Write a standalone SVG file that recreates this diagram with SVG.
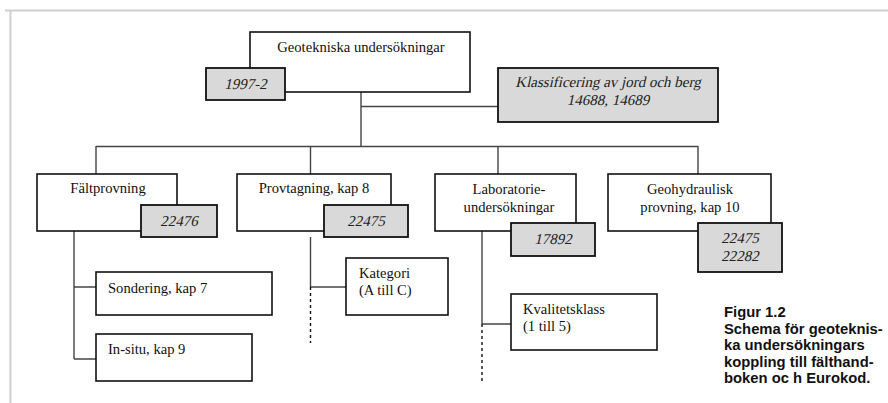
<svg xmlns="http://www.w3.org/2000/svg" width="888" height="403" viewBox="0 0 888 403">
<style>
.box{fill:#fff;stroke:#111;stroke-width:1.6}
.ref{fill:#d9d9d9;stroke:#111;stroke-width:1.8}
.t{font-family:"Liberation Serif","Times New Roman",serif;font-size:14.6px;fill:#111}
.i{font-family:"Liberation Serif","Times New Roman",serif;font-size:15px;fill:#222}
.c{text-anchor:middle}
.ln{stroke:#444;stroke-width:1.4;fill:none}
.dash{stroke:#111;stroke-width:1.4;stroke-dasharray:3 3;fill:none}
.cap{font-family:"Liberation Sans",Arial,sans-serif;font-size:14.8px;font-weight:bold;fill:#111}
</style>
<rect width="888" height="403" fill="#fff"/>
<path d="M5 10.5H888M10.5 10V403" stroke="#cfcfcf" stroke-width="2" fill="none"/>
<g id="connectors">
<path class="ln" d="M361 92V146M361 106.5H498M96 146.5H698M96 146V174M310.5 146V174M498 146V174M698 146V174"/>
<path class="ln" d="M74 231V359M74 287H96M74 359H96"/>
<path class="ln" d="M310.5 237V287M310.5 287H346"/>
<path class="dash" d="M310.5 287V343"/>
<path class="ln" d="M482 231V324M482 324H511"/>
<path class="dash" d="M482 324V382"/>
</g>
<g id="geotekniska">
<rect class="box" x="250" y="32" width="220" height="60"/>
<text class="t c" x="361" y="52">Geotekniska undersökningar</text>
</g>
<g id="ref-1997">
<rect class="ref" x="206" y="68" width="79" height="32"/>
<text class="i c" transform="translate(245.5 89) skewX(-13)">1997-2</text>
</g>
<g id="klassificering">
<rect class="ref" x="498" y="68" width="220" height="54"/>
<text class="i c" transform="translate(608 87) skewX(-13)">Klassificering av jord och berg</text>
<text class="i c" transform="translate(608 105) skewX(-13)">14688, 14689</text>
</g>
<g id="faltprovning">
<rect class="box" x="37" y="174" width="140" height="57"/>
<text class="t c" x="108" y="193">Fältprovning</text>
<rect class="ref" x="141" y="205" width="76" height="32"/>
<text class="i c" transform="translate(179 226) skewX(-13)">22476</text>
</g>
<g id="provtagning">
<rect class="box" x="237" y="174" width="154" height="57"/>
<text class="t c" x="314" y="193">Provtagning, kap 8</text>
<rect class="ref" x="324" y="205" width="84" height="32"/>
<text class="i c" transform="translate(366 226) skewX(-13)">22475</text>
</g>
<g id="laboratorie">
<rect class="box" x="435" y="174" width="141" height="57"/>
<text class="t c" x="509" y="194">Laboratorie-</text>
<text class="t c" x="509" y="212">undersökningar</text>
<rect class="ref" x="511" y="223" width="84" height="33"/>
<text class="i c" transform="translate(553 244) skewX(-13)">17892</text>
</g>
<g id="geohydraulisk">
<rect class="box" x="608" y="174" width="163" height="57"/>
<text class="t c" x="690" y="194">Geohydraulisk</text>
<text class="t c" x="690" y="212">provning, kap 10</text>
<rect class="ref" x="698" y="223" width="84" height="49"/>
<text class="i c" transform="translate(740 243) skewX(-13)">22475</text>
<text class="i c" transform="translate(740 261) skewX(-13)">22282</text>
</g>
<g id="sondering">
<rect class="box" x="96" y="272" width="176" height="43"/>
<text class="t" x="108" y="293">Sondering, kap 7</text>
</g>
<g id="insitu">
<rect class="box" x="96" y="334" width="156" height="47"/>
<text class="t" x="108" y="354">In-situ, kap 9</text>
</g>
<g id="kategori">
<rect class="box" x="346" y="258" width="102" height="57"/>
<text class="t" x="359" y="278">Kategori</text>
<text class="t" x="359" y="295">(A till C)</text>
</g>
<g id="kvalitetsklass">
<rect class="box" x="511" y="294" width="146" height="56"/>
<text class="t" x="523" y="314">Kvalitetsklass</text>
<text class="t" x="523" y="331">(1 till 5)</text>
</g>
<g id="caption">
<text class="cap" x="724" y="317">Figur 1.2</text>
<text class="cap" x="724" y="333.5">Schema för geoteknis-</text>
<text class="cap" x="724" y="350">ka undersökningars</text>
<text class="cap" x="724" y="366.5">koppling till fälthand-</text>
<text class="cap" x="724" y="383">boken oc h Eurokod.</text>
</g>
</svg>
